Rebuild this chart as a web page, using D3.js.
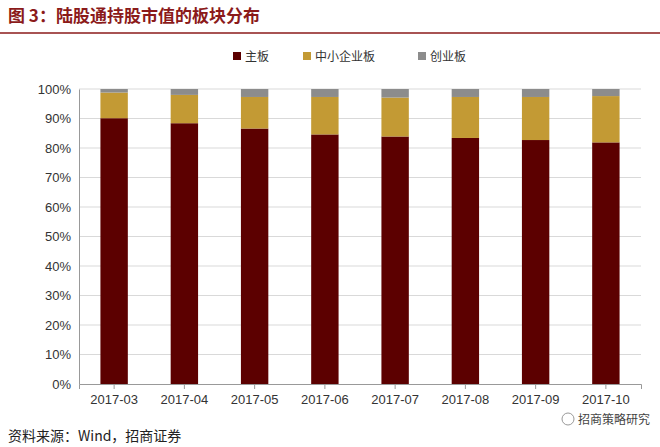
<!DOCTYPE html><html><head><meta charset="utf-8"><script src="https://d3js.org/d3.v7.min.js"></script>
<style>body{margin:0;background:#fff;font-family:"Noto Sans CJK SC",Arial,sans-serif}</style></head><body><svg id="c" width="660" height="447"></svg>
<script>
const categories=["2017-03","2017-04","2017-05","2017-06","2017-07","2017-08","2017-09","2017-10"];
const mainBoard=[90.1,88.4,86.6,84.6,83.9,83.4,82.7,81.9];
const smeBoard=[8.7,9.6,10.7,12.7,13.2,13.9,14.6,15.7];
const chinext=[1.2,2.0,2.7,2.7,2.9,2.7,2.7,2.4];
const seriesNames=["主板","中小企业板","创业板"];
const colors=["#5c0000","#c39a34","#8c8c8c"];
const yTicks=[0,10,20,30,40,50,60,70,80,90,100];
const svg=d3.select("#c");
svg.append("text").attr("x",8).attr("y",22).attr("fill","#8b1a1a").attr("font-size",17).attr("font-weight","bold").text("图 3：陆股通持股市值的板块分布");
svg.append("line").attr("x1",0).attr("x2",660).attr("y1",33).attr("y2",33).attr("stroke","#8b1a1a").attr("stroke-width",1.5);
const x=d3.scaleBand().domain(categories).range([79,641]).paddingInner(0.61).paddingOuter(0.305);
const y=d3.scaleLinear().domain([0,100]).range([384,89]);
const g=svg.append("g");
g.selectAll(".gl").data(yTicks.slice(1)).join("line").attr("x1",79).attr("x2",641).attr("y1",d=>y(d)).attr("y2",d=>y(d)).attr("stroke","#d9d9d9");
const data=categories.map((c,i)=>({c,v:[mainBoard[i],smeBoard[i],chinext[i]]}));
data.forEach(d=>{let acc=0;d.v.forEach((v,k)=>{g.append("rect").attr("x",x(d.c)).attr("width",x.bandwidth()).attr("y",y(acc+v)).attr("height",y(acc)-y(acc+v)).attr("fill",colors[k]);acc+=v;});});
const ya=svg.append("g").attr("transform","translate(79,0)").call(d3.axisLeft(y).tickValues(yTicks).tickFormat(d=>d+"%").tickSize(0).tickPadding(8));
ya.select(".domain").attr("stroke","#999");
ya.selectAll("text").attr("font-size",13).attr("fill","#333").attr("font-family","Arial");
const xa=svg.append("g").attr("transform","translate(0,384)").call(d3.axisBottom(x).tickSize(5).tickPadding(6));
xa.selectAll("line").attr("stroke","#999");xa.select(".domain").attr("stroke","#999");
xa.selectAll("text").attr("font-size",13).attr("fill","#333").attr("font-family","Arial");
const lg=svg.append("g");
const lx=[233,303,418];
seriesNames.forEach((n,k)=>{lg.append("rect").attr("x",lx[k]).attr("y",52).attr("width",8).attr("height",8).attr("fill",colors[k]);
lg.append("text").attr("x",lx[k]+12).attr("y",61).attr("font-size",12).attr("fill","#333").text(n);});
svg.append("text").attr("x",8).attr("y",441).attr("font-size",14).attr("fill","#222").text("资料来源：Wind，招商证券");
svg.append("circle").attr("cx",568).attr("cy",419).attr("r",6).attr("fill","none").attr("stroke","#999");
svg.append("text").attr("x",578).attr("y",424).attr("font-size",12).attr("fill","#444").text("招商策略研究");
</script></body></html>
